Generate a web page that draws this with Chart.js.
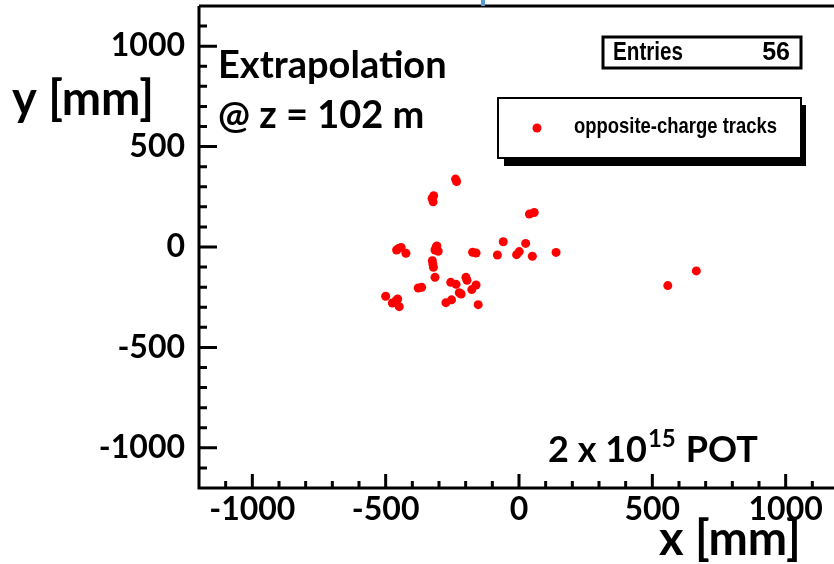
<!DOCTYPE html>
<html>
<head>
<meta charset="utf-8">
<script src="https://cdn.jsdelivr.net/npm/chart.js@4/dist/chart.umd.min.js"></script>
<style>
  html, body { margin: 0; padding: 0; background: #fff; overflow: hidden; width: 834px; height: 564px; }
  #c { display: block; }
</style>
</head>
<body>
<canvas id="c" width="846" height="564"></canvas>
<script>
// ---- data ----
const trackX = [-238, -234, -320, -326, -322, 39, 57, -59, 25,
  -459, -442, -424, -452, -311, -303, -315, -308, -174, -161, -81,
  -9, 1, 50, 139, -325, -321, -323, -315, -378, -365, -256, -236,
  -224, -217, -199, -195, -161, -177, -274, -253, -153, -500,
  -475, -455, -449, -462, 558, 665];
const trackY = [338, 326, 255, 242, 225, 164, 172, 26, 18,
  -15, -2, -31, -8, -2, -21, -15, 5, -26, -30, -40,
  -38, -23, -46, -27, -68, -101, -85, -151, -204, -201, -176, -186,
  -228, -234, -151, -166, -189, -212, -277, -263, -287, -245,
  -279, -259, -297, -268, -192, -119];
const xTickValues = [-1000, -500, 0, 500, 1000];
const yTickValues = [-1000, -500, 0, 500, 1000];
const seriesName = 'opposite-charge tracks';
const entries = 56;

const points = trackX.map((x, i) => ({ x: x, y: trackY[i] }));

const LABEL_FONT = 'Lato';

const decor = {
  id: 'decor',
  afterDraw(chart) {
    const ctx = chart.ctx;
    const ca = chart.chartArea;
    const xs = chart.scales.x, ys = chart.scales.y;
    ctx.save();
    // frame
    ctx.strokeStyle = '#000';
    ctx.lineWidth = 3;
    ctx.beginPath();
    ctx.moveTo(ca.left, ca.top); ctx.lineTo(ca.right, ca.top);
    ctx.moveTo(ca.left, ca.top); ctx.lineTo(ca.left, ca.bottom);
    ctx.moveTo(ca.left - 1.5, ca.bottom); ctx.lineTo(ca.right, ca.bottom);
    ctx.moveTo(ca.right, ca.top); ctx.lineTo(ca.right, ca.bottom);
    ctx.stroke();
    // ticks (inward, ROOT style)
    ctx.lineWidth = 3;
    ctx.beginPath();
    for (let v = -1100; v <= 1100; v += 100) {
      const px = xs.getPixelForValue(v);
      const len = (v % 500 === 0) ? 14 : 7;
      ctx.moveTo(px, ca.bottom); ctx.lineTo(px, ca.bottom - len);
    }
    for (let v = -1100; v <= 1100; v += 100) {
      const py = ys.getPixelForValue(v);
      const len = (v % 500 === 0) ? 18 : 8;
      ctx.moveTo(ca.left, py); ctx.lineTo(ca.left + len, py);
    }
    ctx.stroke();

    // texts
    ctx.fillStyle = '#000';
    ctx.textBaseline = 'alphabetic';
    ctx.textAlign = 'left';
    ctx.font = 'bold 38px ' + LABEL_FONT;
    ctx.fillText('Extrapolation', 218, 78, 240);
    ctx.fillText('@ z = 102 m', 218, 128, 213);

    // 2 x 10^15 POT
    ctx.font = 'bold 36px ' + LABEL_FONT;
    let x0 = 548;
    const t1 = '2 x 10';
    ctx.fillText(t1, x0, 462);
    x0 += ctx.measureText(t1).width + 1;
    ctx.font = 'bold 24px ' + LABEL_FONT;
    ctx.fillText('15', x0, 447);
    x0 += ctx.measureText('15').width + 10;
    ctx.font = 'bold 36px ' + LABEL_FONT;
    ctx.fillText('POT', x0, 462);

    // axis titles
    ctx.font = 'bold 47px ' + LABEL_FONT;
    ctx.fillText('y [mm]', 12, 115, 144);
    ctx.fillText('x [mm]', 659, 555, 142);

    // Entries box
    ctx.fillStyle = '#fff';
    ctx.fillRect(602, 36, 200, 33);
    ctx.strokeStyle = '#000';
    ctx.lineWidth = 3;
    ctx.strokeRect(603, 37, 198, 31);
    ctx.fillStyle = '#000';
    ctx.font = 'bold 25px "Liberation Sans"';
    ctx.textBaseline = 'middle';
    ctx.fillText('Entries', 613, 53, 70);
    ctx.textAlign = 'right';
    ctx.fillText(String(entries), 790, 53, 28);

    // legend box with shadow
    ctx.fillStyle = '#000';
    ctx.fillRect(504, 105, 302, 61);
    ctx.fillStyle = '#fff';
    ctx.fillRect(497, 97, 305, 62);
    ctx.strokeStyle = '#000';
    ctx.lineWidth = 2;
    ctx.strokeRect(498, 98, 303, 60);
    ctx.fillStyle = '#ff0000';
    ctx.beginPath();
    ctx.arc(537, 128, 4.5, 0, Math.PI * 2);
    ctx.fill();
    ctx.fillStyle = '#000';
    ctx.textAlign = 'left';
    ctx.font = 'bold 22px "Liberation Sans"';
    ctx.fillText(seriesName, 574, 127, 203);

    // small blue remnant at top
    ctx.fillStyle = '#5b9bd5';
    ctx.fillRect(481, 0, 4, 6);
    ctx.restore();
  }
};

new Chart(document.getElementById('c'), {
  type: 'scatter',
  data: {
    datasets: [{
      label: seriesName,
      data: points,
      backgroundColor: '#ff0000',
      borderWidth: 0,
      pointRadius: 4.5,
      pointHoverRadius: 4.5
    }]
  },
  options: {
    responsive: false,
    animation: false,
    events: [],
    layout: { padding: { top: 6, right: 7, left: 0, bottom: 0 } },
    plugins: { legend: { display: false }, tooltip: { enabled: false } },
    scales: {
      x: {
        type: 'linear', min: -1200, max: 1200,
        border: { display: false },
        grid: { display: false, drawTicks: false },
        afterBuildTicks: s => { s.ticks = xTickValues.map(v => ({ value: v })); },
        afterFit: s => { s.height = 76; s.paddingLeft = 0; s.paddingRight = 0; },
        ticks: {
          color: '#000', padding: 2, maxRotation: 0, autoSkip: false,
          callback: v => String(v),
          font: { family: LABEL_FONT, weight: 'bold', size: 32 }
        }
      },
      y: {
        type: 'linear', min: -1200, max: 1200,
        border: { display: false },
        grid: { display: false, drawTicks: false },
        afterBuildTicks: s => { s.ticks = yTickValues.map(v => ({ value: v })); },
        afterFit: s => { s.width = 199; s.paddingTop = 0; s.paddingBottom = 0; },
        ticks: {
          color: '#000', padding: 14, autoSkip: false,
          callback: v => String(v),
          font: { family: LABEL_FONT, weight: 'bold', size: 32 }
        }
      }
    }
  },
  plugins: [decor]
});
</script>
</body>
</html>
